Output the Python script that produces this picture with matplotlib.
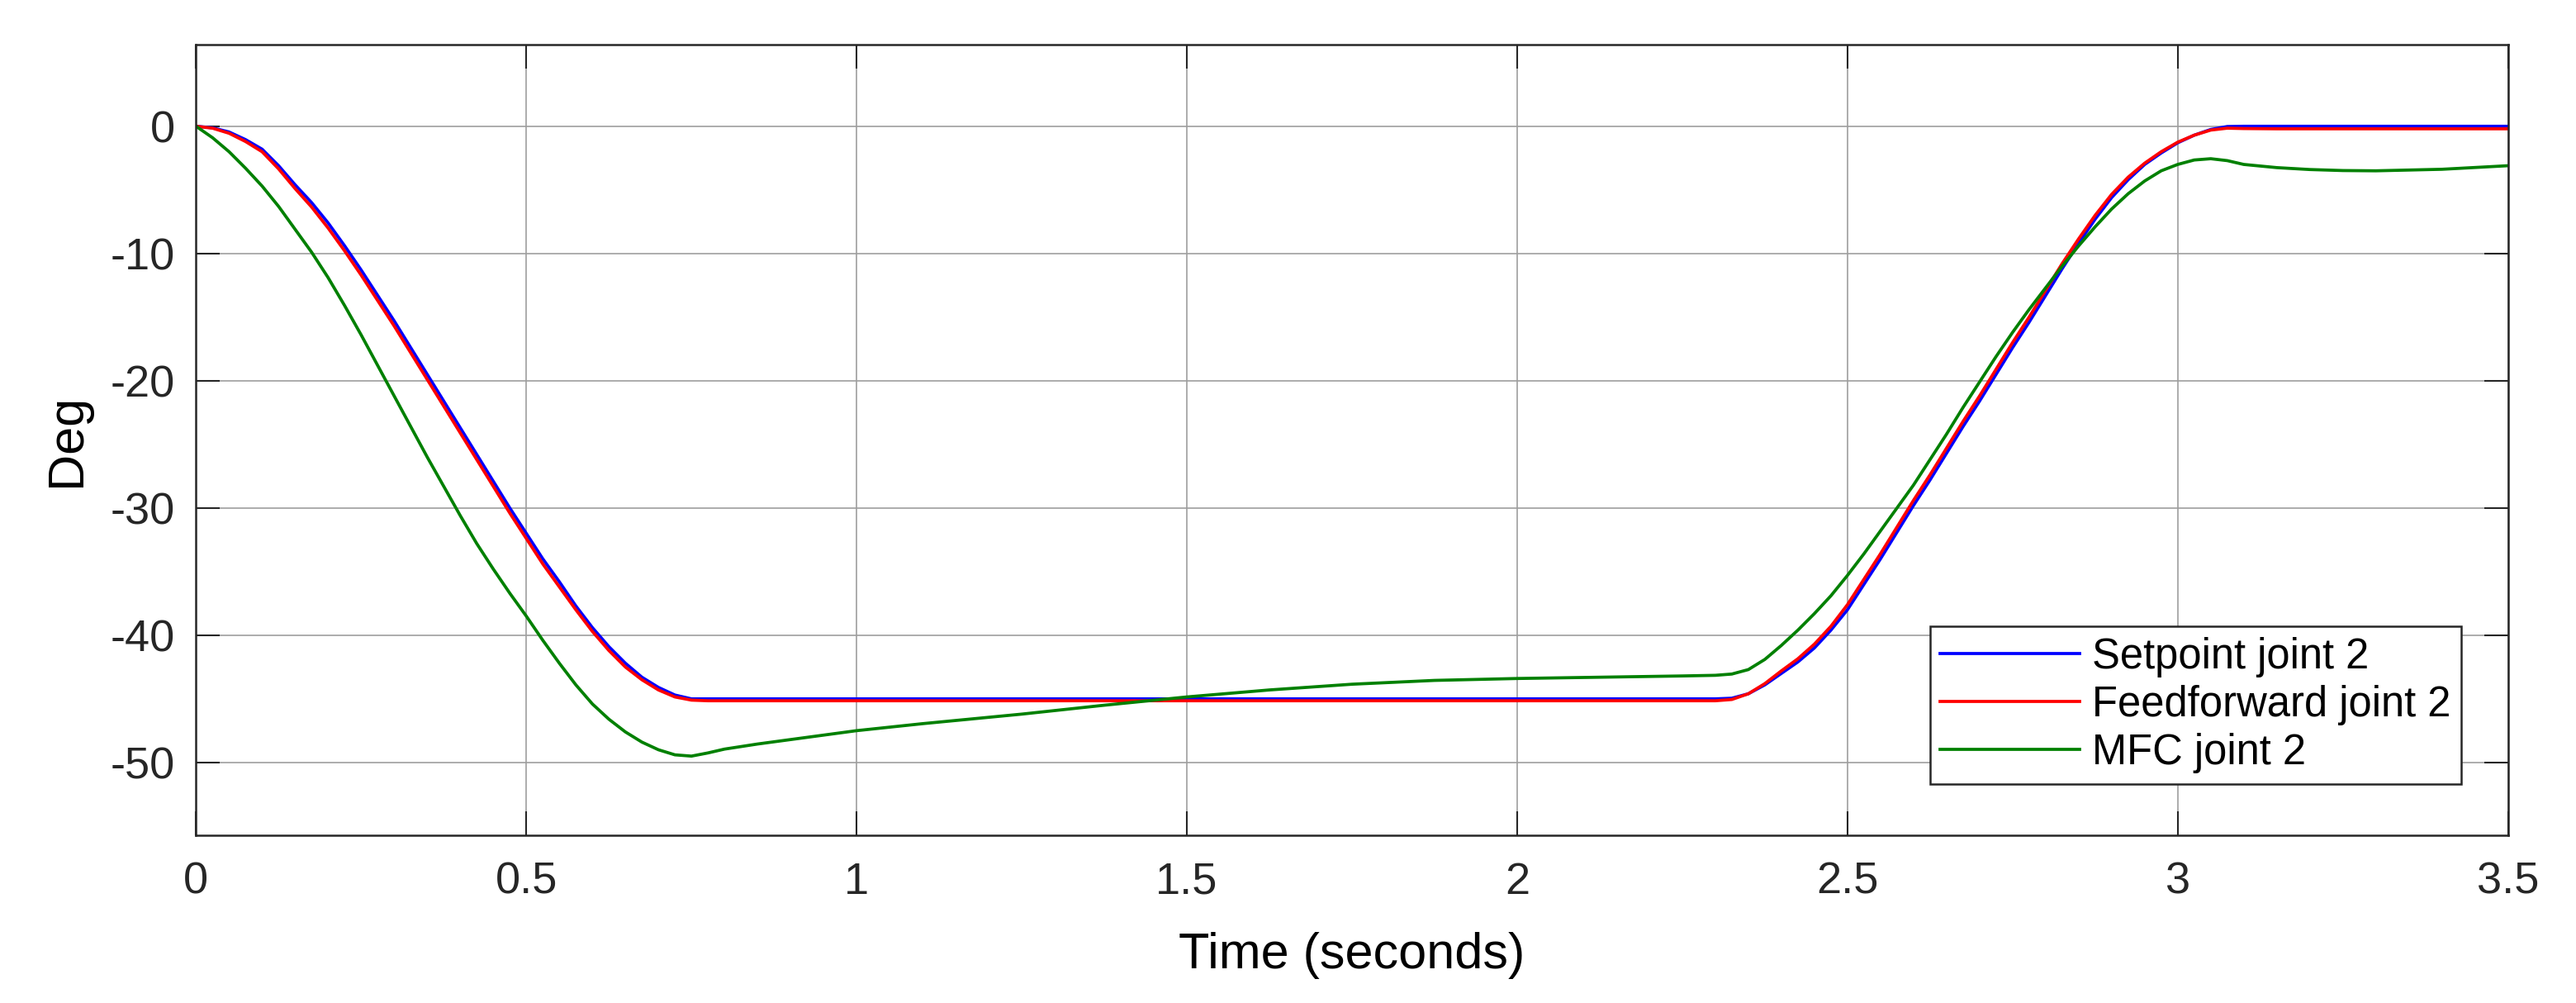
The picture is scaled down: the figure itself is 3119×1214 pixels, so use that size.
import matplotlib
matplotlib.use("Agg")
import matplotlib.pyplot as plt

plt.rcParams['font.family'] = ['Liberation Sans', 'DejaVu Sans']
plt.rcParams['axes.unicode_minus'] = False

# tempo (s) e posições (graus)
tempo = [0, 0.025, 0.05, 0.075, 0.1, 0.125, 0.15, 0.175, 0.2, 0.225, 0.25,
         0.275, 0.3, 0.325, 0.35, 0.375, 0.4, 0.425, 0.45, 0.475, 0.5, 0.525,
         0.55, 0.575, 0.6, 0.625, 0.65, 0.675, 0.7, 0.725, 0.75, 0.775, 0.8,
         0.85, 0.9, 1.0, 1.1, 1.25, 1.375, 1.5, 1.625, 1.75, 1.875, 2.0,
         2.125, 2.25,
         2.3, 2.325, 2.35, 2.375, 2.4, 2.425, 2.45, 2.475, 2.5, 2.525, 2.55,
         2.575, 2.6, 2.625, 2.65, 2.675, 2.7, 2.725, 2.75, 2.775, 2.8, 2.825,
         2.85, 2.875, 2.9, 2.925, 2.95, 2.975, 3.0, 3.025, 3.05, 3.075, 3.1,
         3.15, 3.2, 3.25, 3.3, 3.4, 3.5]

setpoint = [0, -0.12, -0.45, -1.05, -1.8, -3.1, -4.6, -6.0, -7.6, -9.4, -11.3,
            -13.3, -15.3, -17.4, -19.5, -21.6, -23.7, -25.8, -27.9, -30.0,
            -32.0, -34.0, -35.8, -37.7, -39.4, -40.9, -42.2, -43.3, -44.1,
            -44.7, -45.0, -45.0, -45.0,
            -45.0, -45.0, -45.0, -45.0, -45.0, -45.0, -45.0, -45.0, -45.0,
            -45.0, -45.0, -45.0, -45.0,
            -45.0, -44.95, -44.6, -43.9, -43.0, -42.1, -41.0, -39.6, -38.0,
            -36.0, -34.0, -31.9, -29.8, -27.8, -25.7, -23.6, -21.6, -19.5,
            -17.4, -15.4, -13.3, -11.2, -9.2, -7.3, -5.6, -4.2, -3.0, -2.1,
            -1.3, -0.7, -0.25, -0.02, 0,
            0, 0, 0, 0, 0, 0]

feedforward = [0, -0.15, -0.55, -1.2, -2.0, -3.35, -4.9, -6.35, -8.0, -9.8,
               -11.7, -13.7, -15.7, -17.8, -19.9, -22.0, -24.1, -26.2, -28.3,
               -30.4, -32.4, -34.4, -36.2, -38.0, -39.7, -41.2, -42.5, -43.5,
               -44.3, -44.85, -45.1, -45.15, -45.15,
               -45.15, -45.15, -45.15, -45.15, -45.15, -45.15, -45.15, -45.15,
               -45.15, -45.15, -45.15, -45.15, -45.15,
               -45.15, -45.05, -44.6, -43.8, -42.8, -41.85, -40.7, -39.3,
               -37.6, -35.6, -33.6, -31.5, -29.4, -27.4, -25.3, -23.2, -21.2,
               -19.1, -17.0, -15.0, -12.9, -10.8, -8.85, -7.0, -5.35, -4.0,
               -2.9, -2.0, -1.25, -0.7, -0.3, -0.15, -0.18,
               -0.2, -0.2, -0.2, -0.2, -0.2, -0.2]

mfc = [0, -0.9, -2.0, -3.3, -4.7, -6.3, -8.1, -9.9, -11.9, -14.1, -16.4,
       -18.8, -21.2, -23.6, -26.0, -28.3, -30.6, -32.8, -34.8, -36.7, -38.5,
       -40.4, -42.2, -43.9, -45.4, -46.6, -47.6, -48.4, -49.0, -49.4, -49.5,
       -49.25, -48.95,
       -48.55, -48.2, -47.5, -46.95, -46.2, -45.5, -44.85, -44.3, -43.85,
       -43.55, -43.4, -43.3, -43.2,
       -43.15, -43.05, -42.7, -41.9, -40.8, -39.6, -38.3, -36.9, -35.3,
       -33.6, -31.8, -30.0, -28.2, -26.2, -24.2, -22.1, -20.1, -18.1, -16.2,
       -14.4, -12.7, -11.0, -9.4, -7.9, -6.5, -5.3, -4.3, -3.5, -3.0, -2.65,
       -2.55, -2.7, -3.0,
       -3.25, -3.4, -3.48, -3.5, -3.38, -3.1]

rotulos = ['Setpoint joint 2', 'Feedforward joint 2', 'MFC joint 2']
cores = ['#0000ff', '#ff0000', '#008000']

xticks = [0, 0.5, 1, 1.5, 2, 2.5, 3, 3.5]
xticklabels = ['0', '0.5', '1', '1.5', '2', '2.5', '3', '3.5']
yticks = [0, -10, -20, -30, -40, -50]

fig = plt.figure(figsize=(31.19, 12.14), dpi=100)
ax = fig.add_axes([0.0761, 0.1675, 0.8975, 0.7878])

for serie, rotulo, cor in zip([setpoint, feedforward, mfc], rotulos, cores):
    ax.plot(tempo, serie, color=cor, lw=2.7, label=rotulo)

ax.set_xlim(0, 3.5)
ax.set_ylim(-55.7, 6.4)
ax.set_xticks(xticks)
ax.set_xticklabels(xticklabels)
ax.set_yticks(yticks)

ax.grid(True, color='#9e9e9e', lw=1.2)
ax.set_axisbelow(True)

for lado in ax.spines.values():
    lado.set_color('#262626')
    lado.set_linewidth(1.8)

ax.tick_params(axis='both', direction='in', length=21, width=1.5,
               color='#262626', labelsize=39, labelcolor='#262626',
               top=True, right=True)
ax.tick_params(axis='x', pad=23)
ax.tick_params(axis='y', pad=18)

ax.set_xlabel('Time (seconds)', fontsize=44, va='center')
ax.set_ylabel('Deg', fontsize=44, va='center')
ax.xaxis.set_label_coords(0.5, -0.153)
ax.yaxis.set_label_coords(-0.0555, 0.5)

leg = ax.legend(loc='lower right', bbox_to_anchor=(0.9796, 0.0649),
                borderaxespad=0, fontsize=36.5, fancybox=False, framealpha=1,
                edgecolor='#262626', borderpad=0.25, handlelength=3.33,
                handletextpad=0.28, labelspacing=0.18)
leg.get_frame().set_linewidth(1.8)

fig.savefig('out.png', dpi=100, facecolor='white')
